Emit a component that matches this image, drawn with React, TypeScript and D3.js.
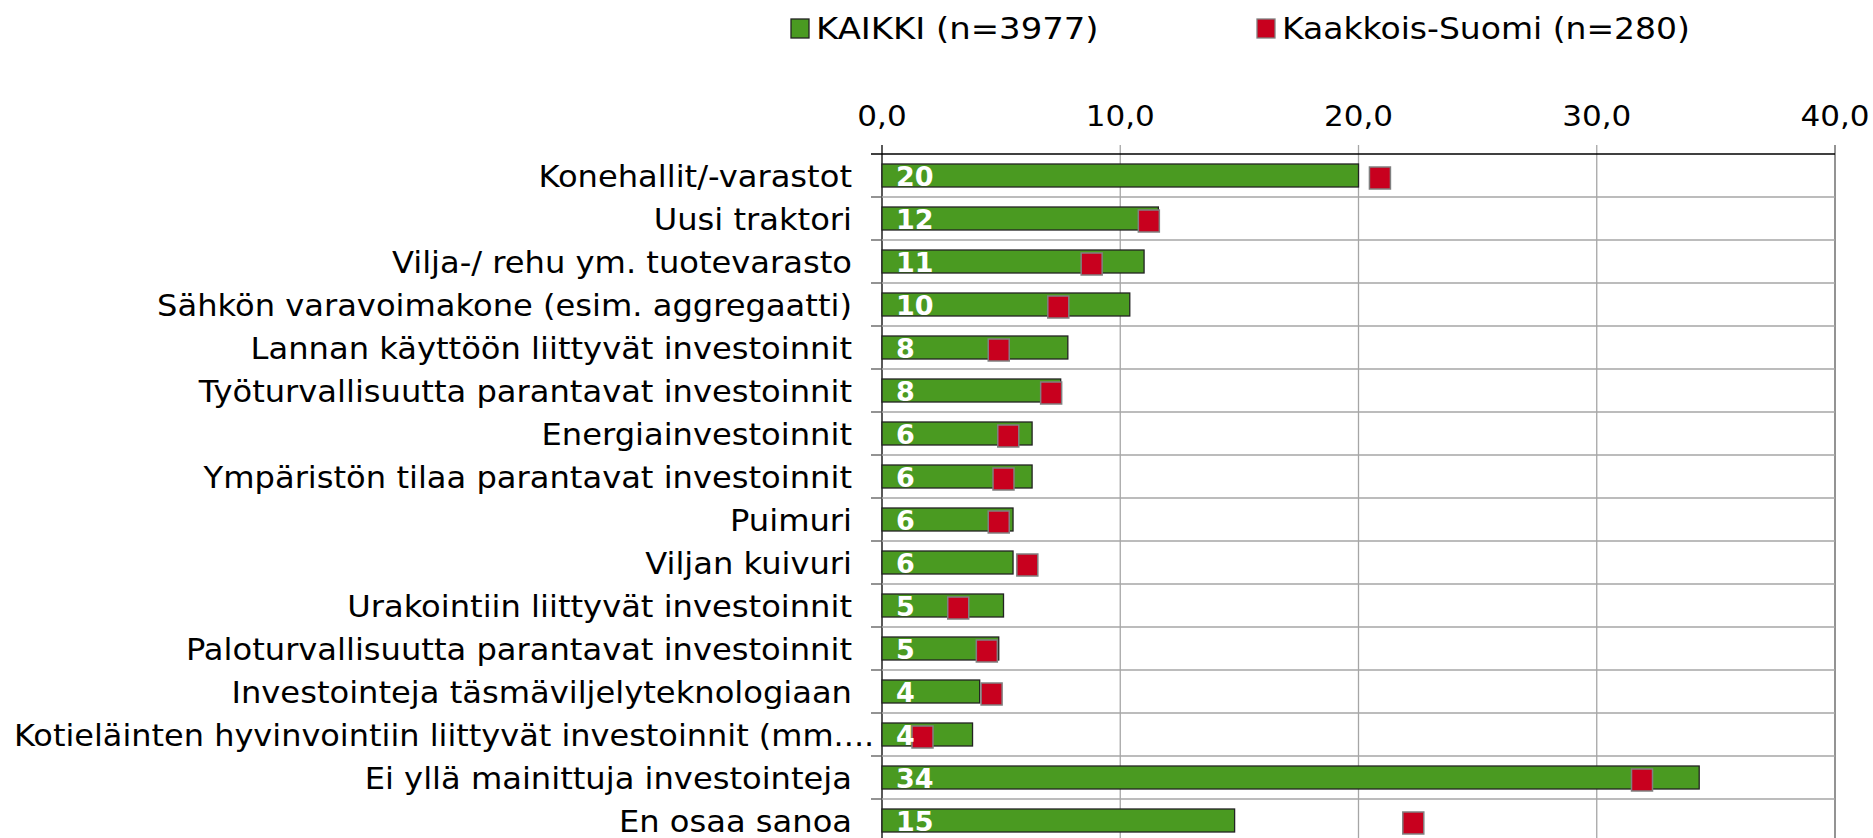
import { useEffect, useRef } from 'react'
import * as d3 from 'd3'

// Investment plans, all respondents vs. Kaakkois-Suomi (%).
const categories = [
  'Konehallit/-varastot',
  'Uusi traktori',
  'Vilja-/ rehu ym. tuotevarasto',
  'Sähkön varavoimakone (esim. aggregaatti)',
  'Lannan käyttöön liittyvät investoinnit',
  'Työturvallisuutta parantavat investoinnit',
  'Energiainvestoinnit',
  'Ympäristön tilaa parantavat investoinnit',
  'Puimuri',
  'Viljan kuivuri',
  'Urakointiin liittyvät investoinnit',
  'Paloturvallisuutta parantavat investoinnit',
  'Investointeja täsmäviljelyteknologiaan',
  'Kotieläinten hyvinvointiin liittyvät investoinnit (mm....',
  'Ei yllä mainittuja investointeja',
  'En osaa sanoa',
]
const kaikki = [20.0, 11.6, 11.0, 10.4, 7.8, 7.5, 6.3, 6.3, 5.5, 5.5, 5.1, 4.9, 4.1, 3.8, 34.3, 14.8]
const kaakkois = [20.9, 11.2, 8.8, 7.4, 4.9, 7.1, 5.3, 5.1, 4.9, 6.1, 3.2, 4.4, 4.6, 1.7, 31.9, 22.3]
const ticks = [0, 10, 20, 30, 40]
const series = ['KAIKKI (n=3977)', 'Kaakkois-Suomi (n=280)']

const W = 1873
const H = 838
const GREEN = '#4a9a21'
const RED = '#c8001e'
const FONT = "Verdana, 'DejaVu Sans', sans-serif"
const SX = 1.09 // the source text is a bit wider than DejaVu

export default function App() {
  const ref = useRef<SVGSVGElement>(null)

  useEffect(() => {
    const svg = d3.select(ref.current)
    svg.selectAll('*').remove()

    const x = d3.scaleLinear().domain([0, 40]).range([882, 1835])
    const y = d3.scaleBand().domain(categories).range([154, 154 + 43 * categories.length])
    const step = y.step()
    const barH = 23

    // grid
    const g = svg.append('g')
    ticks.forEach((t) => {
      g.append('line')
        .attr('x1', x(t)).attr('x2', x(t)).attr('y1', 145).attr('y2', H + 20)
        .attr('stroke', t === 0 ? '#000' : t === 40 ? '#595959' : '#a6a6a6')
        .attr('stroke-width', 1.3)
    })
    for (let k = 1; k <= categories.length; k++) {
      const yy = 154 + k * step
      g.append('line').attr('x1', x(0)).attr('x2', x(40)).attr('y1', yy).attr('y2', yy)
        .attr('stroke', '#a6a6a6').attr('stroke-width', 1.3)
      g.append('line').attr('x1', x(0) - 11).attr('x2', x(0)).attr('y1', yy).attr('y2', yy)
        .attr('stroke', '#595959').attr('stroke-width', 1.3)
    }
    g.append('line').attr('x1', x(0) - 11).attr('x2', x(40)).attr('y1', 154).attr('y2', 154)
      .attr('stroke', '#000').attr('stroke-width', 1.3)

    // bars
    svg.append('g').selectAll('rect').data(categories).join('rect')
      .attr('x', x(0))
      .attr('y', (d) => y(d)! + (step - barH) / 2)
      .attr('width', (_, i) => x(kaikki[i]) - x(0))
      .attr('height', barH)
      .attr('fill', GREEN).attr('stroke', '#222').attr('stroke-width', 1.3)

    // Kaakkois-Suomi markers
    svg.append('g').selectAll('rect').data(categories).join('rect')
      .attr('x', (_, i) => x(kaakkois[i]) - 10.5)
      .attr('y', (d) => y(d)! + step / 2 - 8.5)
      .attr('width', 21).attr('height', 22)
      .attr('fill', RED).attr('stroke', '#808080').attr('stroke-width', 1.5)

    // value labels
    svg.append('g').selectAll('text').data(categories).join('text')
      .attr('x', x(0) + 14)
      .attr('y', (d) => y(d)! + 32)
      .attr('fill', '#fff').attr('font-weight', 'bold')
      .attr('font-family', FONT).attr('font-size', 27)
      .text((_, i) => String(Math.round(kaikki[i])))

    // category labels; an overlong one runs on past the usual right edge
    const cl = svg.append('g').selectAll('text').data(categories).join('text')
      .attr('text-anchor', 'end')
      .attr('font-family', FONT).attr('font-size', 29.5).attr('fill', '#000')
      .attr('transform', (d) => `translate(852,${y(d)! + step / 2 + 11}) scale(${SX},1)`)
      .text((d) => d)
    cl.each(function (d) {
      const w = (this as SVGTextElement).getComputedTextLength() * SX
      if (852 - w < 14) {
        d3.select(this).attr('text-anchor', 'start')
          .attr('transform', `translate(14,${y(d)! + step / 2 + 11}) scale(${Math.min(SX, 860 / (w / SX))},1)`)
      }
    })

    // tick labels
    svg.append('g').selectAll('text').data(ticks).join('text')
      .attr('text-anchor', 'middle')
      .attr('font-family', FONT).attr('font-size', 29).attr('fill', '#000')
      .attr('transform', (t) => `translate(${x(t)},126) scale(1.07,1)`)
      .text((t) => d3.format('.1f')(t).replace('.', ','))

    // legend
    const lg = svg.append('g')
    const lx = [791, 1257]
    series.forEach((s, i) => {
      lg.append('rect').attr('x', lx[i]).attr('y', 19).attr('width', 18).attr('height', 19)
        .attr('fill', i === 0 ? GREEN : RED)
        .attr('stroke', i === 0 ? '#222' : '#808080').attr('stroke-width', 1.3)
      lg.append('text')
        .attr('transform', `translate(${lx[i] + 25},39) scale(${i === 0 ? 1.13 : 1.1},1)`)
        .attr('font-family', FONT).attr('font-size', 30).attr('fill', '#000')
        .text(s)
    })
  }, [])

  return (
    <svg
      ref={ref}
      width={W}
      height={H}
      style={{ position: 'absolute', left: 0, top: 0, background: '#fff' }}
    />
  )
}
